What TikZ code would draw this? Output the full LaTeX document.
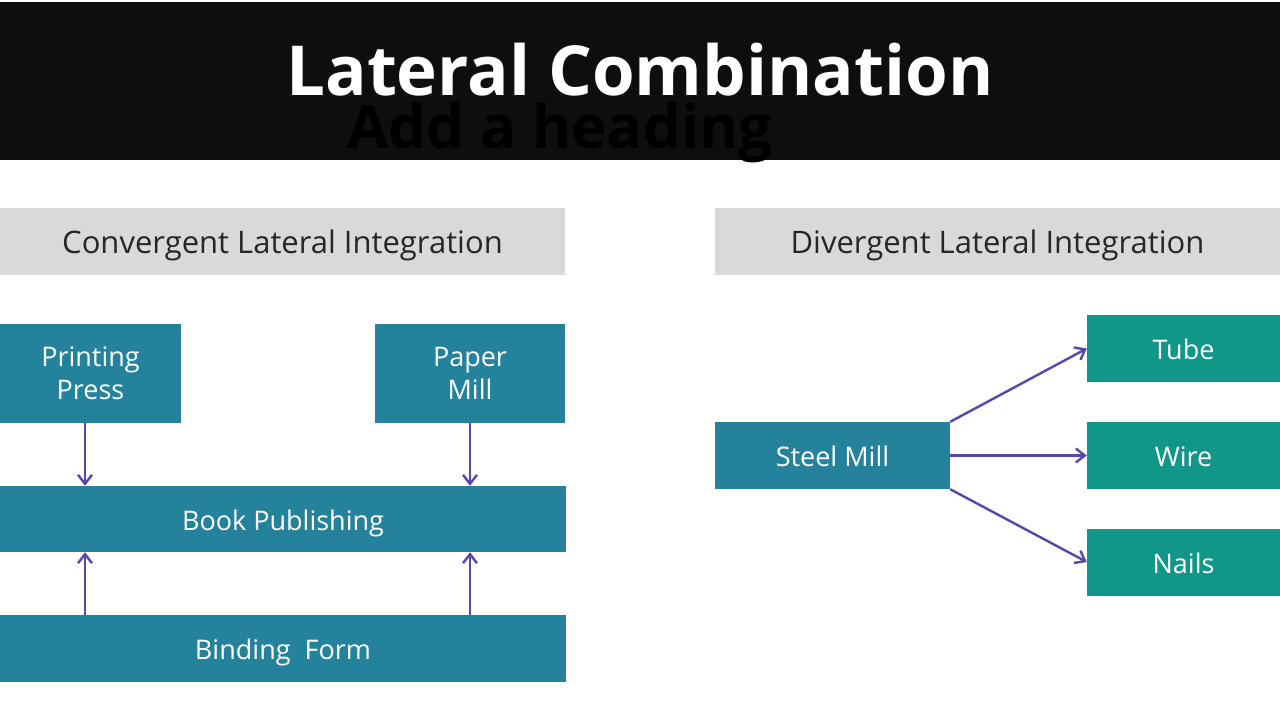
\documentclass[tikz,border=0pt]{standalone}
\usepackage{fontspec}
\setmainfont{Open Sans}
\usetikzlibrary{arrows.meta}
\definecolor{band}{HTML}{0E0E0E}
\definecolor{hdrgray}{HTML}{D9D9D9}
\definecolor{bluebox}{HTML}{25829C}
\definecolor{greenbox}{HTML}{11968A}
\definecolor{arrowc}{HTML}{5A45AC}
\tikzset{
  box/.style={rectangle, fill=bluebox, inner sep=0pt, text=white, font=\fontsize{27}{33}\selectfont, align=center},
  onebox/.style={box, text height=22pt, text depth=0pt},
  gbox/.style={onebox, fill=greenbox},
  hdr/.style={rectangle, fill=hdrgray, inner sep=0pt, text=black!85, font=\fontsize{31}{36}\selectfont, text height=24pt, text depth=0pt},
  conn/.style={draw=arrowc, line width=2.4pt, -{Straight Barb[length=9pt,width=14pt,line width=2.4pt]}}
}
\begin{document}
\begin{tikzpicture}[x=1pt,y=-1pt]
\useasboundingbox (0,0) rectangle (1280,720);
\fill[white] (0,0) rectangle (1280,720);
\fill[band] (0,2) rectangle (1280,160);
\node[font=\fontsize{60}{70}\bfseries\selectfont, text=black, inner sep=0pt, anchor=base] (sub) at (560,148) {Add a heading};
\node[font=\fontsize{69}{78}\bfseries\selectfont, text=white, inner sep=0pt, anchor=base] (title) at (640,95) {Lateral Combination};

\node[hdr, minimum width=565pt, minimum height=67pt] (lh) at (282.5,241.5) {Convergent Lateral Integration};
\node[hdr, minimum width=565pt, minimum height=67pt] (rh) at (997.5,241.5) {Divergent Lateral Integration};

\node[box, minimum width=181pt, minimum height=99pt] (pp) at (90.5,373.5) {Printing\\Press};
\node[box, minimum width=190pt, minimum height=99pt] (pm) at (470,373.5) {Paper\\Mill};
\node[onebox, minimum width=566pt, minimum height=66pt] (bp) at (283,519) {Book Publishing};
\node[onebox, minimum width=566pt, minimum height=67pt] (bf) at (283,648.5) {Binding\ \ Form};

\draw[conn] (pp.south -| 85,0) -- (bp.north -| 85,0);
\draw[conn] (pm.south) -- (pm.south |- bp.north);
\draw[conn] (bf.north -| 85,0) -- (bp.south -| 85,0);
\draw[conn] (bf.north -| 470,0) -- (bp.south -| 470,0);

\node[onebox, minimum width=235pt, minimum height=67pt] (sm) at (832.5,455.5) {Steel Mill};
\node[gbox, minimum width=193pt, minimum height=67pt] (tube) at (1183.5,348.5) {Tube};
\node[gbox, minimum width=193pt, minimum height=67pt] (wire) at (1183.5,455.5) {Wire};
\node[gbox, minimum width=193pt, minimum height=67pt] (nails) at (1183.5,562) {Nails};

\draw[conn] (sm.north east) -- (tube.west);
\draw[conn] (sm.east) -- (wire.west);
\draw[conn] (sm.south east) -- (nails.west);
\end{tikzpicture}
\end{document}
